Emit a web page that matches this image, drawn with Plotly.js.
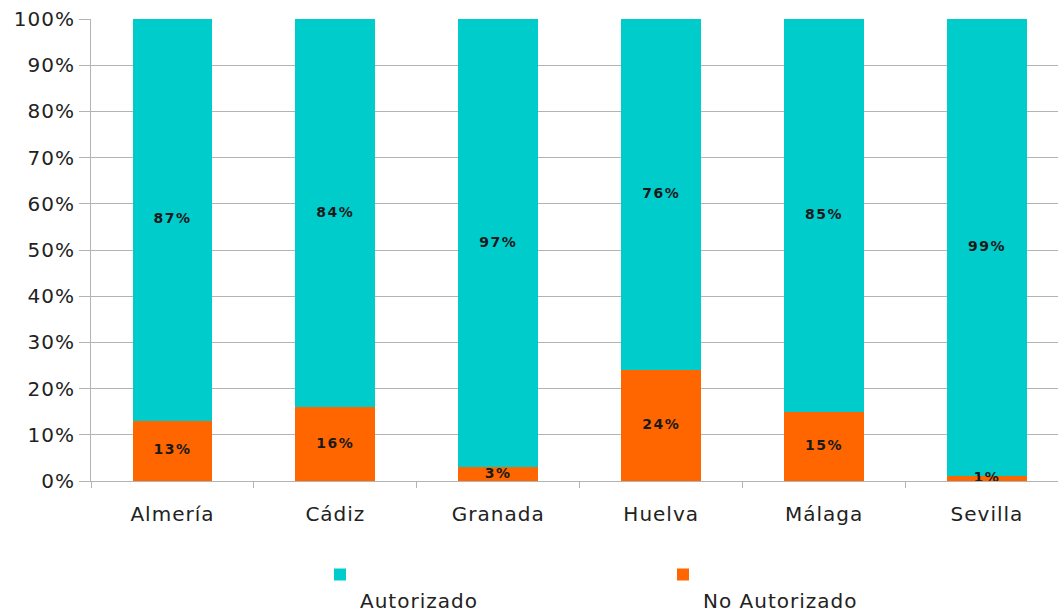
<!DOCTYPE html>
<html>
<head>
<meta charset="utf-8">
<script src="https://cdn.plot.ly/plotly-3.0.1.min.js"></script>
<style>
html,body{margin:0;padding:0;background:#fff;overflow:hidden}
#chart{width:1058px;height:614px}
#chart .xtick text, #chart .ytick text, #chart .legendtext{letter-spacing:1px}
#chart .scatterlayer .textpoint text{letter-spacing:1.5px}
</style>
</head>
<body>
<div id="chart"></div>
<script>
const categories = ["Almería", "Cádiz", "Granada", "Huelva", "Málaga", "Sevilla"];
const noAutorizado = [13, 16, 3, 24, 15, 1];
const autorizado = [87, 84, 97, 76, 85, 99];
const yTicks = [0, 10, 20, 30, 40, 50, 60, 70, 80, 90, 100];

const labelFont = {family: "DejaVu Sans", size: 14, color: "#1a1a1a", weight: "bold"};
const axisFont = {family: "DejaVu Sans", size: 20, color: "#222"};

const traces = [
  {
    type: "bar", name: "<br>No Autorizado", x: categories, y: noAutorizado,
    marker: {color: "#ff6600"}, width: 0.49, hoverinfo: "x+y"
  },
  {
    type: "bar", name: "<br>Autorizado", x: categories, y: autorizado,
    marker: {color: "#00cccc"}, width: 0.49, hoverinfo: "x+y"
  },
  {
    type: "scatter", mode: "text", showlegend: false, x: categories,
    y: noAutorizado.map(v => v / 2),
    text: noAutorizado.map(v => "<b>" + v + "%</b>"),
    textposition: "middle center", textfont: labelFont, cliponaxis: false, hoverinfo: "skip"
  },
  {
    type: "scatter", mode: "text", showlegend: false, x: categories,
    y: autorizado.map((v, i) => noAutorizado[i] + v / 2),
    text: autorizado.map(v => "<b>" + v + "%</b>"),
    textposition: "middle center", textfont: labelFont, cliponaxis: false, hoverinfo: "skip"
  }
];

const layout = {
  width: 1058, height: 614,
  margin: {l: 91, r: 0, t: 19, b: 133},
  barmode: "stack",
  paper_bgcolor: "#fff", plot_bgcolor: "#fff",
  font: {family: "DejaVu Sans, sans-serif", color: "#222"},
  xaxis: {
    type: "category", range: [-0.5, 5.436],
    showline: true, linecolor: "#b3b3b3", linewidth: 1,
    ticks: "outside", tickson: "boundaries", ticklen: 6, tickcolor: "#b3b3b3",
    tickfont: axisFont, ticklabelstandoff: 15,
    showgrid: false, zeroline: false
  },
  yaxis: {
    range: [0, 100], tickvals: yTicks, ticktext: yTicks.map(v => v + "%"),
    showgrid: true, gridcolor: "#b3b3b3", gridwidth: 1,
    showline: true, linecolor: "#b3b3b3", linewidth: 1,
    ticks: "outside", ticklen: 11, tickcolor: "#b3b3b3",
    tickfont: axisFont, zeroline: false
  },
  showlegend: true,
  legend: {
    orientation: "h", traceorder: "reversed",
    xref: "container", x: 320 / 1058, xanchor: "left",
    yref: "container", y: (614 - 555) / 614, yanchor: "top",
    entrywidth: 298, entrywidthmode: "pixels",
    valign: "top", font: {family: "DejaVu Sans", size: 20, color: "#222"},
    bgcolor: "rgba(0,0,0,0)"
  }
};

Plotly.newPlot("chart", traces, layout, {displayModeBar: false, staticPlot: true});
</script>
</body>
</html>
